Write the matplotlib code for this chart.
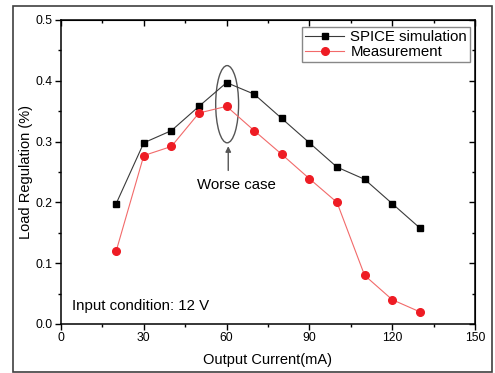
import matplotlib.pyplot as plt
from matplotlib.patches import Ellipse, Rectangle
from matplotlib.ticker import MultipleLocator

plt.rcParams['font.family'] = ['Liberation Sans', 'DejaVu Sans']

# данные
current = [20, 30, 40, 50, 60, 70, 80, 90, 100, 110, 120, 130]
spice = [0.198, 0.298, 0.318, 0.358, 0.397, 0.378, 0.338, 0.298, 0.258, 0.238, 0.198, 0.158]
measured = [0.120, 0.277, 0.292, 0.347, 0.358, 0.318, 0.279, 0.239, 0.200, 0.080, 0.040, 0.020]

x_ticks = [0, 30, 60, 90, 120, 150]
y_ticks = [0.0, 0.1, 0.2, 0.3, 0.4, 0.5]

fig = plt.figure(figsize=(4.95, 3.73), dpi=100)
ax = fig.add_axes([0.1232, 0.1314, 0.8364, 0.815])

ax.plot(current, spice, color='#3a3a3a', lw=0.8, marker='s', ms=5,
        mfc='black', mec='black', label='SPICE simulation')
ax.plot(current, measured, color='#f26a6a', lw=0.8, marker='o', ms=5.5,
        mfc='#ee1c24', mec='#ee1c24', label='Measurement')

ax.set_xlim(0, 150)
ax.set_ylim(0, 0.5)
ax.set_xticks(x_ticks)
ax.set_yticks(y_ticks)
ax.xaxis.set_minor_locator(MultipleLocator(15))
ax.yaxis.set_minor_locator(MultipleLocator(0.05))
ax.tick_params(which='major', direction='out', length=4, width=1, labelsize=8.7, pad=2)
ax.tick_params(which='minor', direction='out', length=2.5, width=1)

# верхняя и правая оси: риски внутрь
top = ax.secondary_xaxis('top')
top.set_xticks(x_ticks)
top.xaxis.set_minor_locator(MultipleLocator(15))
top.tick_params(which='major', direction='in', length=4, width=1, labeltop=False)
top.tick_params(which='minor', direction='in', length=2.5, width=1)
right = ax.secondary_yaxis('right')
right.set_yticks(y_ticks)
right.yaxis.set_minor_locator(MultipleLocator(0.05))
right.tick_params(which='major', direction='in', length=4, width=1, labelright=False)
right.tick_params(which='minor', direction='in', length=2.5, width=1)

for s in ax.spines.values():
    s.set_linewidth(1.1)

ax.set_xlabel('Output Current(mA)', fontsize=10.5, labelpad=6)
ax.set_ylabel('Load Regulation (%)', fontsize=10.5, labelpad=2)

ax.add_patch(Ellipse((60.2, 0.3615), 8.3, 0.127, fill=False, ec='#555555', lw=1))
ax.annotate('', xy=(60.6, 0.297), xytext=(60.6, 0.248),
            arrowprops=dict(arrowstyle='-|>', color='#555555', lw=1, mutation_scale=8))
ax.text(63.5, 0.229, 'Worse case', fontsize=10.8, ha='center', va='center')
ax.text(4, 0.03, 'Input condition: 12 V', fontsize=10.8, ha='left', va='center')

leg = ax.legend(loc='upper right', bbox_to_anchor=(0.988, 0.977), fontsize=10.8,
                frameon=True, fancybox=False, edgecolor='#888888', framealpha=1,
                borderpad=0.2, labelspacing=0.1, handlelength=2.6, handletextpad=0.4,
                borderaxespad=0)
leg.get_frame().set_linewidth(1)

fig.patches.append(Rectangle((0.026, 0.003), 0.968, 0.981, transform=fig.transFigure,
                             fill=False, ec='#404040', lw=1.2))

fig.savefig('out.png', dpi=100)
